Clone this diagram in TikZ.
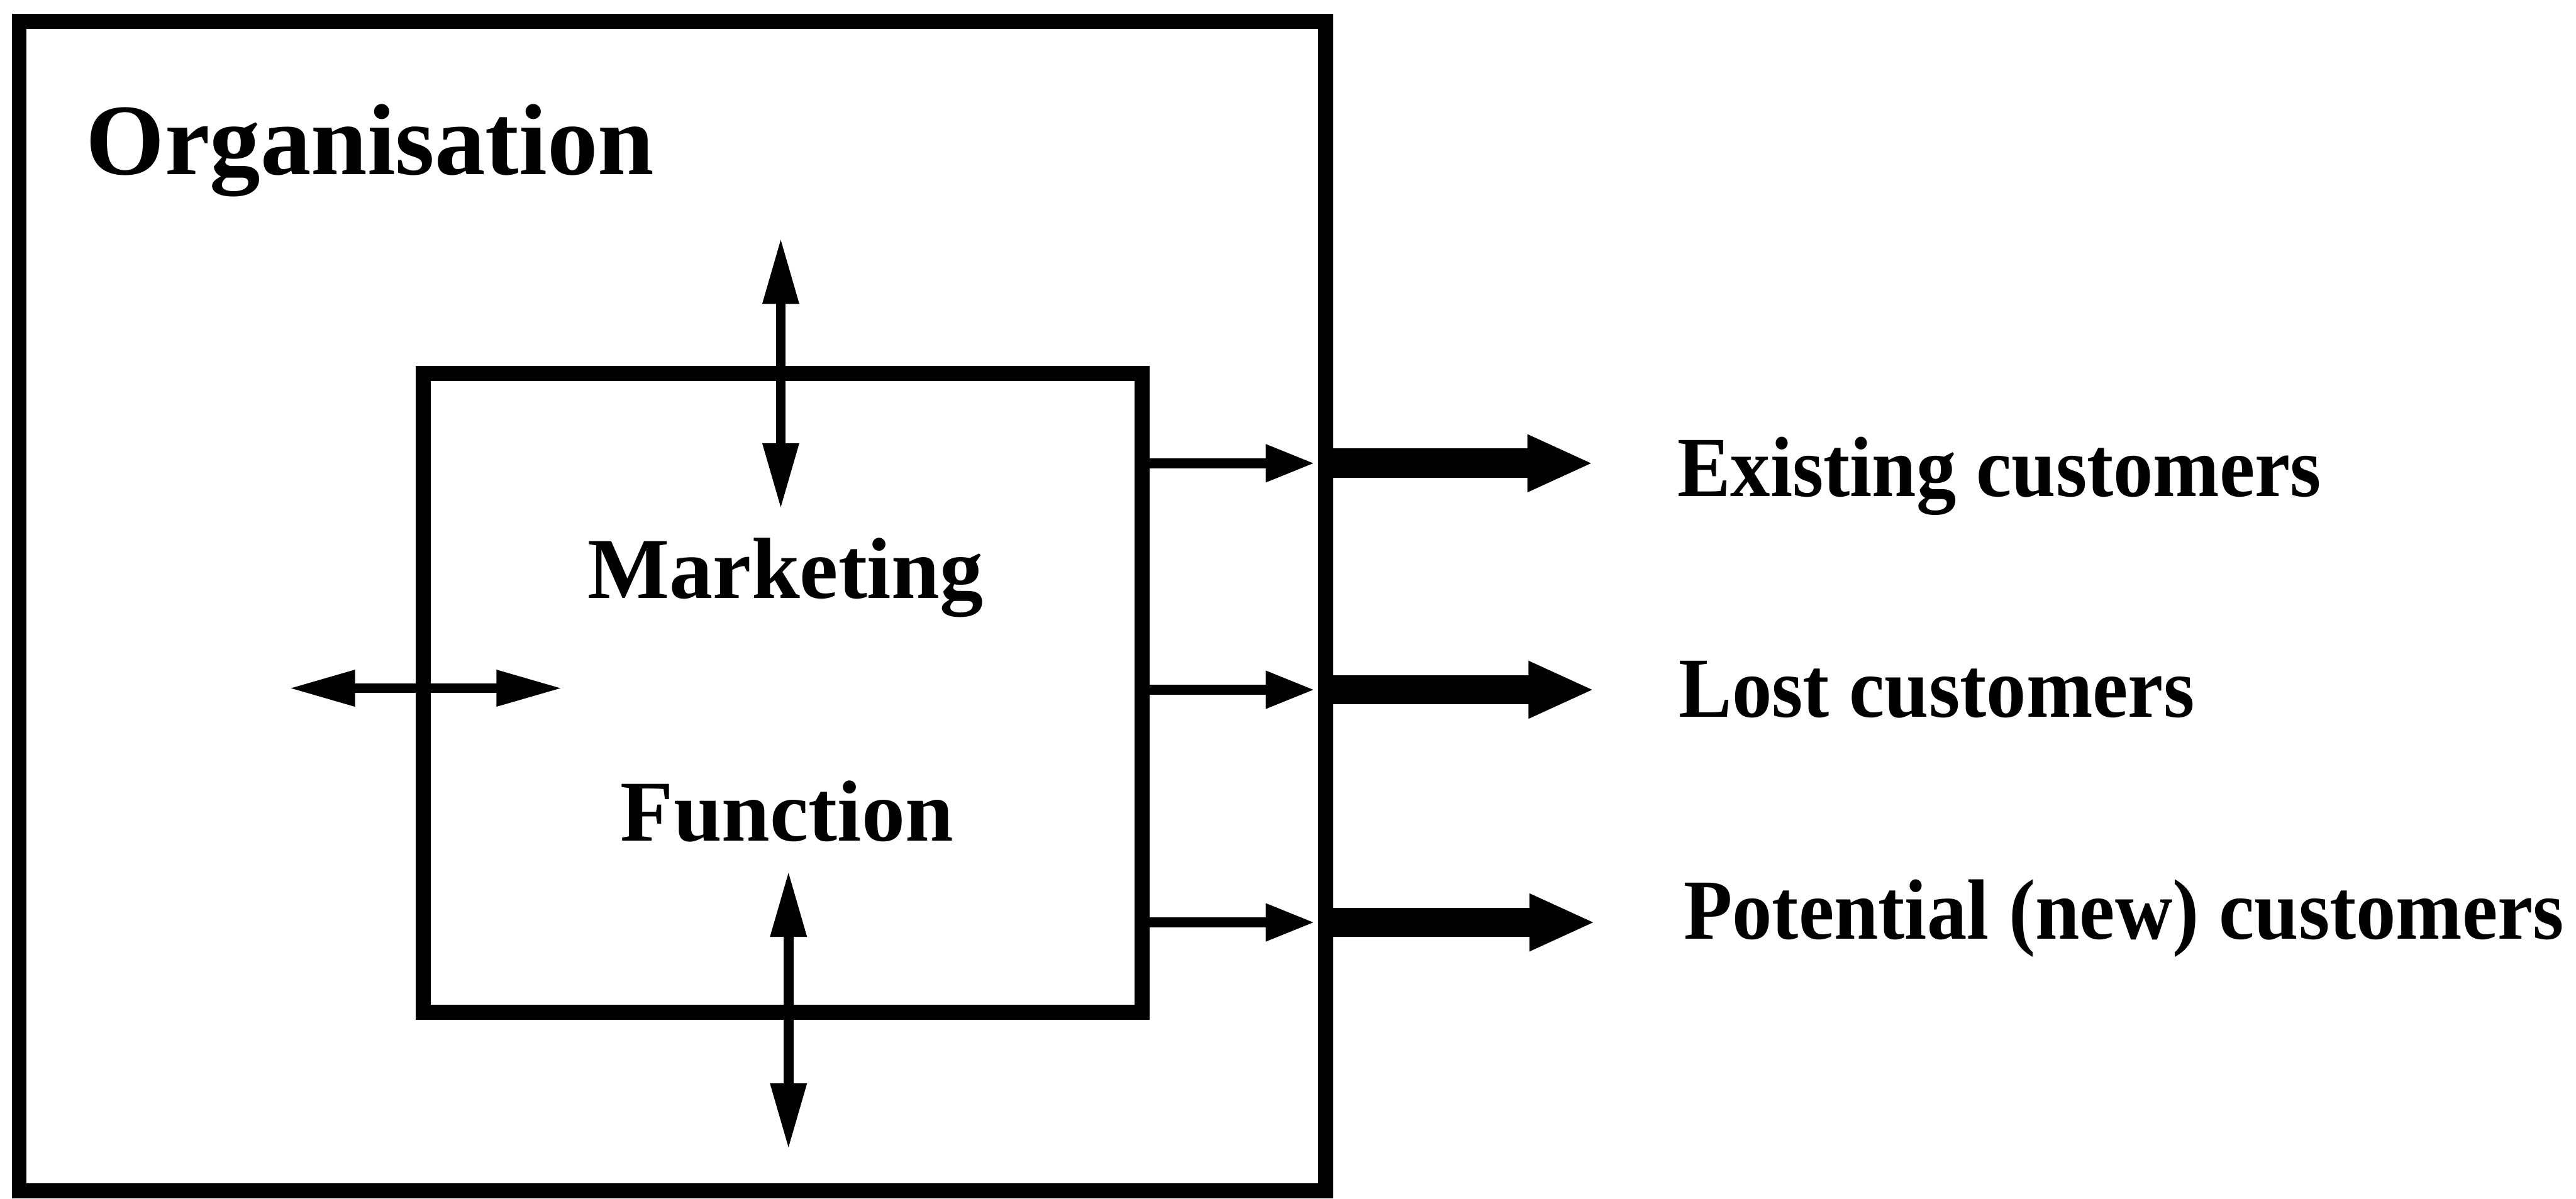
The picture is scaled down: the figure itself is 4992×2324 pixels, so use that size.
\documentclass[tikz,border=0pt]{standalone}
\usepackage{fontspec}
\setmainfont{Liberation Serif}
\newfontfamily\labelfont[FakeStretch=0.93]{Liberation Serif}
\usetikzlibrary{arrows.meta}
\begin{document}
\begin{tikzpicture}[x=0.01cm, y=-0.01cm,
  frame/.style={draw, line width=0.29cm, inner sep=0pt, rectangle},
  link/.style={line width=0.19cm,
    {Triangle[length=1.28cm,width=0.66cm]}-{Triangle[length=1.28cm,width=0.66cm]}},
  feed/.style={line width=0.2cm, -{Triangle[length=0.95cm,width=0.68cm]}},
  flow/.style={line width=0.57cm, -{Triangle[length=1.28cm,width=1.02cm]}},
  heading/.style={font=\bfseries\fontsize{55.8}{60}\selectfont, inner sep=0pt, anchor=base west},
  unit/.style={font=\bfseries\fontsize{47.8}{52}\selectfont, inner sep=0pt, anchor=base},
  market/.style={font=\labelfont\bfseries\fontsize{47.2}{52}\selectfont, inner sep=0pt, anchor=base west}
]
\useasboundingbox[fill=white] (0,0) rectangle (4992,2324);

% Organisation and its marketing function
\node[frame, minimum width=25.30cm, minimum height=22.66cm] (org) at (1303,1175) {};
\node[frame, minimum width=13.92cm, minimum height=12.38cm] (mkt) at (1517,1343) {};

\node[heading] (orgname) at (166,338) {Organisation};
\node[unit] (mname) at (1522,1160) {Marketing};
\node[unit] (fname) at (1525,1630) {Function};

% Two-way links across the marketing boundary
\coordinate (upA) at (1513,461);
\coordinate (upB) at (1513,987);
\coordinate (dnA) at (1528,1688);
\coordinate (dnB) at (1528,2228);
\coordinate (lfA) at (560,1334);
\coordinate (lfB) at (1090,1334);
\draw[link] (upA) -- (upB);
\draw[link] (dnA) -- (dnB);
\draw[link] (lfA) -- (lfB);

% Flows out to the three customer groups
\coordinate (e1) at (2548,898);
\coordinate (e2) at (2548,1337);
\coordinate (e3) at (2548,1788);
\coordinate (s1) at (2568,898);
\coordinate (s2) at (2568,1337);
\coordinate (s3) at (2568,1788);
\coordinate (t1) at (3088,898);
\coordinate (t2) at (3090,1337);
\coordinate (t3) at (3092,1788);

\draw[feed] (mkt.east |- e1) -- (e1);
\draw[feed] (mkt.east |- e2) -- (e2);
\draw[feed] (mkt.east |- e3) -- (e3);
\draw[flow] (s1) -- (t1);
\draw[flow] (s2) -- (t2);
\draw[flow] (s3) -- (t3);

\node[market] (existing) at (3250,962) {Existing customers};
\node[market] (lost) at (3253,1390) {Lost customers};
\node[market] (potential) at (3262,1820) {Potential (new) customers};
\end{tikzpicture}
\end{document}
